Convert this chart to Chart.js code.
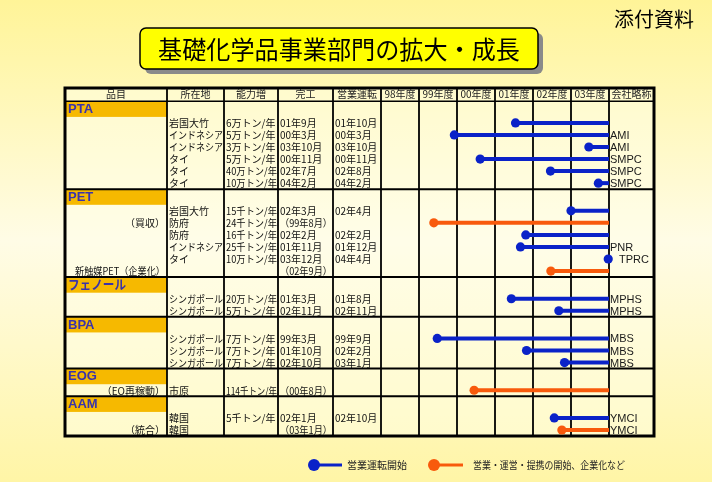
<!DOCTYPE html>
<html>
<head>
<meta charset="utf-8">
<script src="https://cdn.jsdelivr.net/npm/chart.js@4.4.0/dist/chart.umd.min.js"></script>
<style>
  html, body { margin: 0; padding: 0; background: #fff59e; }
  #chart { display: block; }
</style>
</head>
<body>
<canvas id="chart" width="712" height="482"></canvas>
<script>
// --- data ---
const sections = ['PTA', 'PET', 'フェノール', 'BPA', 'EOG', 'AAM'];
const sectionRows = [6, 6, 2, 3, 1, 2];
const headers = ['品目', '所在地', '能力増', '完工', '営業運転'];
const yearLabels = ['98年度', '99年度', '00年度', '01年度', '02年度', '03年度'];
const firstYear = 1998;
const endYear = 2004;

const notes = ['', '', '', '', '', '',
  '', '（買収）', '', '', '', '新触媒PET（企業化）',
  '', '',
  '', '', '',
  '（EO再稼動）',
  '', '（統合）'];
const sites = ['岩国大竹', 'インドネシア', 'インドネシア', 'タイ', 'タイ', 'タイ',
  '岩国大竹', '防府', '防府', 'インドネシア', 'タイ', '',
  'シンガポール', 'シンガポール',
  'シンガポール', 'シンガポール', 'シンガポール',
  '市原',
  '韓国', '韓国'];
const capacities = ['6万トン/年', '5万トン/年', '3万トン/年', '5万トン/年', '40万トン/年', '10万トン/年',
  '15千トン/年', '24千トン/年', '16千トン/年', '25千トン/年', '10万トン/年', '',
  '20万トン/年', '5万トン/年',
  '7万トン/年', '7万トン/年', '7万トン/年',
  '114千トン/年',
  '5千トン/年', ''];
const completions = ['01年9月', '00年3月', '03年10月', '00年11月', '02年7月', '04年2月',
  '02年3月', '（99年8月）', '02年2月', '01年11月', '03年12月', '（02年9月）',
  '01年3月', '02年11月',
  '99年3月', '01年10月', '02年10月',
  '（00年8月）',
  '02年1月', '（03年1月）'];
const operations = ['01年10月', '00年3月', '03年10月', '00年11月', '02年8月', '04年2月',
  '02年4月', '', '02年2月', '01年12月', '04年4月', '',
  '01年8月', '02年11月',
  '99年9月', '02年2月', '03年1月',
  '',
  '02年10月', ''];
const companies = ['', 'AMI', 'AMI', 'SMPC', 'SMPC', 'SMPC',
  '', '', '', 'PNR', 'TPRC', '',
  'MPHS', 'MPHS',
  'MBS', 'MBS', 'MBS',
  '',
  'YMCI', 'YMCI'];
// fiscal-year position of each start dot (98年度 = 1998.0 .. 1999.0)
const startYears = [2001.54, 1999.93, 2003.47, 2000.61, 2002.46, 2003.72,
  2003.0, 1999.39, 2001.81, 2001.67, 2003.98, 2002.47,
  2001.43, 2002.68,
  1999.48, 2001.83, 2002.83,
  2000.45,
  2002.56, 2002.76];
// 'b' = 営業運転開始, 'o' = 営業・運営・提携の開始、企業化など
const kinds = ['b', 'b', 'b', 'b', 'b', 'b',
  'b', 'o', 'b', 'b', 'b', 'o',
  'b', 'b',
  'b', 'b', 'b',
  'o',
  'b', 'o'];

// --- layout ---
const BLUE = '#0a22c8';
const ORANGE = '#f85a0c';
const BAND = '#f6b900';
const CAT_TEXT = '#3a33aa';
const JP = "'Noto Sans CJK JP', 'Noto Sans', sans-serif";
const LAT = "'Liberation Sans', 'Noto Sans CJK JP', sans-serif";
const colX = [65, 167, 224, 278, 333];   // left text columns of the table
const tableRight = 654;

// row heights in y units: header, section band, data row
const HEAD = 1.1, BANDH = 1.3, ROWH = 1;
const rowY = [];
const bandTop = [];
let acc = HEAD;
sectionRows.forEach(n => {
  bandTop.push(acc);
  acc += BANDH;
  for (let i = 0; i < n; i++) { rowY.push(acc + ROWH / 2); acc += ROWH; }
});
const totalH = acc;

const datasets = startYears.map((s, i) => ({
  data: [{ x: s, y: rowY[i] }, { x: endYear, y: rowY[i] }],
  borderColor: kinds[i] === 'o' ? ORANGE : BLUE,
  backgroundColor: kinds[i] === 'o' ? ORANGE : BLUE,
  borderWidth: 4,
  pointRadius: [4.6, 0],
  pointBorderWidth: 0,
  pointHoverRadius: 0,
  tension: 0,
  clip: false
}));

const tablePlugin = {
  id: 'table',
  beforeDraw(chart) {
    const ctx = chart.ctx;
    const W = chart.width, H = chart.height;
    ctx.save();
    const g = ctx.createLinearGradient(0, 0, 0, H);
    g.addColorStop(0, '#fff498');
    g.addColorStop(0.5, '#fffce6');
    g.addColorStop(1, '#fff5a6');
    ctx.fillStyle = g;
    ctx.fillRect(0, 0, W, H);

    // title box
    ctx.fillStyle = '#8a8a8a';
    ctx.beginPath(); ctx.roundRect(145, 33, 398, 41, 6); ctx.fill();
    ctx.fillStyle = '#ffff00';
    ctx.strokeStyle = '#000';
    ctx.lineWidth = 1.5;
    ctx.beginPath(); ctx.roundRect(140, 28, 398, 41, 6); ctx.fill(); ctx.stroke();
    ctx.fillStyle = '#000';
    ctx.textAlign = 'center';
    ctx.textBaseline = 'middle';
    ctx.font = '25px ' + JP;
    ctx.fillText('基礎化学品事業部門の拡大・成長', 339, 49, 362);
    ctx.textAlign = 'left';
    ctx.font = '20px ' + JP;
    ctx.fillText('添付資料', 614, 19);

    // legend
    const leg = [[BLUE, 314, 342, '営業運転開始', 347, 60], [ORANGE, 434, 463, '営業・運営・提携の開始、企業化など', 473, 152]];
    leg.forEach(([c, x0, x1, t, tx, mw]) => {
      ctx.strokeStyle = c; ctx.fillStyle = c; ctx.lineWidth = 3;
      ctx.beginPath(); ctx.moveTo(x0, 465); ctx.lineTo(x1, 465); ctx.stroke();
      ctx.beginPath(); ctx.arc(x0, 465, 6, 0, Math.PI * 2); ctx.fill();
      ctx.fillStyle = '#222';
      ctx.font = '10px ' + JP;
      ctx.fillText(t, tx, 465, mw);
    });
    ctx.restore();
  },
  beforeDatasetsDraw(chart) {
    const ctx = chart.ctx;
    const xs = chart.scales.x, ys = chart.scales.y;
    const top = ys.getPixelForValue(0), bottom = ys.getPixelForValue(totalH);
    ctx.save();
    ctx.fillStyle = 'rgba(255,255,235,0.45)';
    ctx.fillRect(colX[0], top, tableRight - colX[0], bottom - top);

    // section bands and names
    sections.forEach((name, s) => {
      const y0 = ys.getPixelForValue(bandTop[s]), y1 = ys.getPixelForValue(bandTop[s] + BANDH);
      ctx.fillStyle = BAND;
      ctx.fillRect(colX[0], y0, colX[1] - colX[0], y1 - y0);
      ctx.fillStyle = CAT_TEXT;
      ctx.font = 'bold 13px ' + LAT;
      ctx.textAlign = 'left';
      ctx.textBaseline = 'middle';
      ctx.fillText(name, colX[0] + 3, (y0 + y1) / 2 + 0.5, 58);
    });

    // header
    const hy = ys.getPixelForValue(HEAD / 2);
    ctx.fillStyle = '#222';
    ctx.font = '10px ' + JP;
    ctx.textAlign = 'center';
    ctx.textBaseline = 'middle';
    headers.forEach((h, i) => {
      const r = i + 1 < colX.length ? colX[i + 1] : xs.left;
      ctx.fillText(h, (colX[i] + r) / 2, hy, r - colX[i] - 4);
    });
    yearLabels.forEach((t, i) => {
      const a = xs.getPixelForValue(firstYear + i), b = xs.getPixelForValue(firstYear + i + 1);
      ctx.fillText(t, (a + b) / 2, hy, b - a - 2);
    });
    ctx.fillText('会社略称', (xs.right + tableRight) / 2, hy, tableRight - xs.right - 3);

    // row texts
    ctx.fillStyle = '#111';
    rowY.forEach((v, i) => {
      const y = ys.getPixelForValue(v) + 0.5;
      ctx.font = '10px ' + JP;
      ctx.textAlign = 'right';
      if (notes[i]) ctx.fillText(notes[i], colX[1] - 2, y, 90);
      ctx.textAlign = 'left';
      [sites, capacities, completions, operations].forEach((arr, c) => {
        const x0 = colX[c + 1];
        const r = c + 2 < colX.length ? colX[c + 2] : xs.left;
        if (arr[i]) ctx.fillText(arr[i], x0 + 2, y, r - x0 - 3);
      });
    });

    // grid lines
    ctx.strokeStyle = '#000';
    ctx.lineWidth = 1.8;
    const vline = x => { ctx.beginPath(); ctx.moveTo(x, top); ctx.lineTo(x, bottom); ctx.stroke(); };
    colX.slice(1).forEach(vline);
    for (let yr = firstYear; yr <= endYear; yr++) vline(xs.getPixelForValue(yr));
    const hline = (v, w) => {
      const y = ys.getPixelForValue(v);
      ctx.lineWidth = w;
      ctx.beginPath(); ctx.moveTo(colX[0], y); ctx.lineTo(tableRight, y); ctx.stroke();
    };
    hline(HEAD, 1.5);
    bandTop.slice(1).forEach(v => hline(v, 2));
    ctx.lineWidth = 3;
    ctx.strokeRect(colX[0], top, tableRight - colX[0], bottom - top);
    ctx.restore();
  },
  afterDatasetsDraw(chart) {
    const ctx = chart.ctx;
    const xs = chart.scales.x, ys = chart.scales.y;
    ctx.save();
    ctx.fillStyle = '#1a1a1a';
    ctx.font = '11px ' + LAT;
    ctx.textAlign = 'left';
    ctx.textBaseline = 'middle';
    companies.forEach((c, i) => {
      if (!c) return;
      const gap = startYears[i] >= endYear - 0.05 ? 10 : 1;
      ctx.fillText(c, xs.right + gap, ys.getPixelForValue(rowY[i]) + 1);
    });
    ctx.restore();
  }
};

new Chart(document.getElementById('chart'), {
  type: 'line',
  data: { datasets: datasets },
  options: {
    responsive: false,
    animation: false,
    events: [],
    layout: { padding: { left: 381, right: 103, top: 88, bottom: 46 } },
    scales: {
      x: { type: 'linear', min: firstYear, max: endYear, display: false },
      y: { type: 'linear', min: 0, max: totalH, reverse: true, display: false }
    },
    plugins: { legend: { display: false }, tooltip: { enabled: false } }
  },
  plugins: [tablePlugin]
});
</script>
</body>
</html>
